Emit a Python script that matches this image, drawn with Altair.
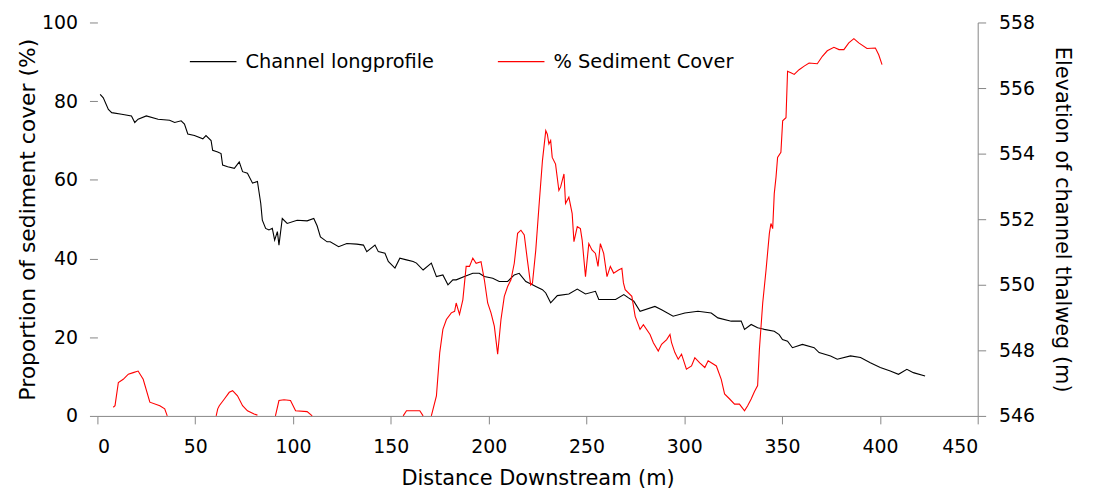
import altair as alt
import pandas as pd

# Channel longprofile: distance (m) and thalweg elevation (m)
black_x = [1.4, 3, 5.6, 7.3, 12.4, 17.4, 19.1, 20.8, 25, 31, 36.9, 39.5, 42.8, 44.5, 46.2, 49.6,
           53.9, 55.5, 58.1, 58.9, 61.5, 63.2, 64, 66.6, 70, 72.5, 74.2, 76.7, 79.3, 81.8, 83.5,
           84.3, 86, 87.7, 89.4, 90.6, 92, 92.8, 94.5, 97, 102.1, 107.2, 110.6, 112.3, 114, 117.4,
           119, 123.3, 127.5, 132.6, 136, 137.7, 141.9, 143.6, 147, 148.7, 152.1, 154.6, 158,
           161.4, 163.1, 166.5, 170.7, 173.3, 176.6, 179.2, 181.7, 183.4, 187.6, 191.9, 195.2,
           197.8, 202.1, 205.4, 209.7, 213.1, 215.6, 219, 222.4, 224.1, 227.5, 229.2,
           231.7, 235.1, 241, 245.3, 249.5, 254.6, 256.3, 263.1, 264.9, 269.1, 271.5, 274.2, 277.4,
           285, 288.4, 294.3, 300.3, 307, 313.8, 317.2, 324, 329.1, 330.8, 334.2, 337.5, 340.9,
           346, 348.5, 350.2, 352.8, 355.3, 360.4, 366.4, 368.9, 374.8, 378.2, 385, 390.1, 395.1,
           400.2, 405.3, 409.5, 413.8, 417.1, 423.1]
black_elev = [555.81, 555.7, 555.35, 555.25, 555.2, 555.15, 554.95, 555.05, 555.15, 555.05, 555.02,
              554.95, 555.0, 554.9, 554.6, 554.55, 554.45, 554.55, 554.4, 554.1, 554.05, 554.0,
              553.65, 553.6, 553.55, 553.75, 553.45, 553.4, 553.1, 553.15, 552.48, 551.97, 551.72,
              551.67, 551.72, 551.36, 551.62, 551.21, 552.02, 551.87, 551.97, 551.95, 552.02,
              551.8, 551.46, 551.31,
              551.31, 551.16, 551.26, 551.24, 551.21, 551.01, 551.21, 551.01, 550.96, 550.71,
              550.51, 550.81, 550.76, 550.71, 550.66, 550.45, 550.66, 550.25, 550.3, 550.0,
              550.15, 550.15, 550.25, 550.35, 550.35, 550.25, 550.2, 550.1, 550.1, 550.3,
              550.35, 550.1, 550.0, 549.95, 549.85, 549.75,
              549.45, 549.67, 549.72, 549.87, 549.72, 549.8, 549.55, 549.55, 549.55, 549.7, 549.6,
              549.5, 549.19, 549.34,
              549.24, 549.04, 549.14, 549.19, 549.14, 548.99, 548.89, 548.89, 548.64, 548.79,
              548.69, 548.64, 548.58, 548.48, 548.33, 548.28, 548.08, 548.18, 548.08, 547.93,
              547.83, 547.73, 547.83, 547.78, 547.62, 547.48, 547.37, 547.27, 547.42, 547.32,
              547.22]

# % Sediment cover: distance (m), percent, and segment id (breaks where cover is zero)
red_x = [8.1, 9, 10.7, 13.2, 15.8, 18.3, 20.8, 23.4, 26.8, 31.9, 34.4, 35.7,
         60.7, 61.5, 62.3, 64.9, 67.4, 69.1, 71.6, 74.2, 76.7, 80.1, 81.8,
         91, 92.8, 95.4, 98.7, 101.3, 107.2, 109.8,
         156.3, 158, 164.8, 166.5,
         170.7, 173.3, 175, 176.6, 178.4, 180.9, 182.6, 183.4, 185.1, 186.8, 188.5, 190.2, 191.9,
         193.6, 196.1, 197.8, 199.5, 201.2, 202.9, 204.6, 206.3, 208, 209.7, 211.4, 213.1, 214.8,
         216.5, 218.2, 219.8, 221.5, 222.4, 224.1, 225.7, 227.5, 229.2, 230, 230.8, 231.7, 232.5,
         234.2, 235.9, 236.8, 238.5, 239.3, 241, 242.7, 243.6, 245.3, 246.9, 247.8, 249.5, 251.2,
         252.8, 254.6, 255.9, 257.1, 258.8, 260.5, 262.2, 263.9, 266.4, 268.1, 268.9, 269.8,
         273.2, 274.9, 277.4, 279.1, 282.5, 284.2, 286.7, 288.4, 291, 292.7, 293.5, 295.2, 296.9,
         298.6, 301.1, 303.7, 305.4, 307.9, 310.5, 312.2, 316.4, 318.9, 320.6, 323.2, 325.7,
         328.2, 330.8, 332.4, 334.2, 335.9, 337.5, 338.4, 340.1, 341.8, 343.5, 344.3, 345.2, 346,
         346.9, 347.7, 349.4, 350.3, 352, 352.8, 354.5, 356.2, 358.7, 361.3, 363.8, 368, 370.6,
         373.1, 376.5, 379.1, 381.6, 384.1, 386.7, 389.2, 393.4, 397.7, 399.4, 401.1]
red_pct = [2.2, 2.6, 8.5, 9.3, 10.6, 11.0, 11.4, 9.3, 3.5, 2.6, 1.8, 0,
           0, 1.8, 2.6, 4.3, 6.0, 6.4, 5.1, 2.6, 1.3, 0.5, 0.2,
           0, 3.9, 4.1, 3.9, 1.3, 1.1, 0,
           0, 1.3, 1.3, 0,
           0, 5.1, 16.1, 22, 24.5, 26.2, 26.6, 28.7, 25.8, 29.5, 38, 38, 40.1,
           38.8, 39.2, 34.6, 28.7, 26.2, 22.8, 15.7, 24.5, 30.4, 32.9, 34.6, 38.8, 46.4,
           47.2, 46, 39.6, 33.3, 33.8, 42.2, 53.1, 64.9, 72.5, 71.6, 69.1, 70, 65.7,
           64, 57.3, 58.2, 61.5, 54, 55.6, 51.4, 44.3, 48.1, 47.6, 44.7, 35.4, 43.8,
           42.2, 41.3, 38, 43.8, 41.3, 35.4, 38, 36.3, 37.1, 37.5, 33.8, 32.1,
           30.4, 25.3, 22, 23.2, 20.7, 18.6, 16.5, 18.2, 19.4, 20.7, 18.6, 16.1, 14.4,
           15.7, 11.9, 12.7, 14.8, 13.5, 12.3, 14, 12.7, 9.3, 5.6, 4.3, 3,
           3, 1.3, 2.6, 4.3, 6.2, 7.7, 16.9, 28.7, 37.1, 46.4, 48.9, 47.6, 56.5,
           60.7, 65.7, 67, 75, 75.8, 87.6, 87.2, 86.8, 88, 88.9, 89.7, 89.5, 91.4,
           92.8, 93.7, 93.1, 93.1, 94.8, 95.9, 94.8, 93.4, 93.5, 91.8, 89.3]
red_seg = [1] * 12 + [2] * 11 + [3] * 7 + [4] * 4 + [5] * (len(red_x) - 34)

series_names = ["Channel longprofile", "% Sediment Cover"]
series_colors = ["#000000", "#FF0000"]

x_ticks = [0, 50, 100, 150, 200, 250, 300, 350, 400, 450]
left_ticks = [0, 20, 40, 60, 80, 100]
right_ticks = [546, 548, 550, 552, 554, 556, 558]

FONT = "DejaVu Sans"
GRAY = "#868686"

black_df = pd.DataFrame({"x": black_x, "elev": black_elev, "series": series_names[0]})
red_df = pd.DataFrame({"x": red_x, "pct": red_pct, "seg": red_seg, "series": series_names[1]})

x_enc = alt.X("x:Q", scale=alt.Scale(domain=[0, 450], nice=False),
              axis=alt.Axis(title="Distance Downstream (m)", values=x_ticks, grid=False,
                            domainColor=GRAY, tickColor=GRAY, tickSize=8, labelPadding=14,
                            labelFontSize=19, titleFontSize=21, titlePadding=11))

color_enc = alt.Color("series:N",
                      scale=alt.Scale(domain=series_names, range=series_colors),
                      legend=alt.Legend(title=None, orient="none", legendX=92, legendY=15,
                                        direction="horizontal", symbolType="stroke",
                                        symbolSize=2200, symbolStrokeWidth=1.2,
                                        labelFontSize=19.5, labelOffset=8, columnPadding=61,
                                        labelLimit=400))

red = alt.Chart(red_df).mark_line(strokeWidth=1.1).encode(
    x=x_enc,
    y=alt.Y("pct:Q", scale=alt.Scale(domain=[0, 100], nice=False),
            axis=alt.Axis(title="Proportion of sediment cover (%)", orient="left",
                          values=left_ticks, grid=False, domain=False, tickColor=GRAY,
                          tickSize=8, labelPadding=12, labelFontSize=19, titleFontSize=22,
                          titlePadding=2)),
    color=color_enc,
    detail="seg:N",
    order="x:Q",
)

black = alt.Chart(black_df).mark_line(strokeWidth=1.1).encode(
    x=x_enc,
    y=alt.Y("elev:Q", scale=alt.Scale(domain=[546, 558], nice=False, zero=False),
            axis=alt.Axis(title="Elevation of channel thalweg (m)", orient="right",
                          values=right_ticks, format="d", grid=False, domainColor=GRAY,
                          tickColor=GRAY, tickSize=8, labelPadding=13, labelFontSize=19,
                          titleFontSize=21, titlePadding=17)),
    color=color_enc,
    order="x:Q",
)

chart = alt.layer(black, red).resolve_scale(y="independent").properties(
    width=886, height=396,
    autosize=alt.AutoSizeParams(type="none"),
    padding={"left": 90, "top": 13, "right": 108, "bottom": 73},
).configure_view(stroke=None).configure_axis(
    labelFont=FONT, titleFont=FONT, labelColor="#000000", titleColor="#000000",
    titleFontWeight="normal"
).configure_legend(labelFont=FONT, labelColor="#000000")

chart.save("out.html", embed_options={"renderer": "svg", "actions": False})
